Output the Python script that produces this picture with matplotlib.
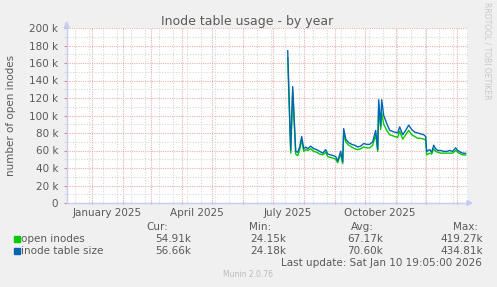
import matplotlib
matplotlib.use("Agg")
import matplotlib.pyplot as plt
import matplotlib.transforms as mtransforms
import pandas as pd

# daily points (values in k)
dates = ["2025-07-16", "2025-07-19", "2025-07-21", "2025-07-24", "2025-07-26",
         "2025-07-28", "2025-07-30", "2025-08-01", "2025-08-03", "2025-08-05",
         "2025-08-08", "2025-08-11", "2025-08-14", "2025-08-17", "2025-08-20",
         "2025-08-23", "2025-08-25", "2025-08-28", "2025-08-31", "2025-09-02",
         "2025-09-04", "2025-09-07", "2025-09-09", "2025-09-10", "2025-09-12",
         "2025-09-15", "2025-09-18", "2025-09-21", "2025-09-24", "2025-09-27",
         "2025-09-30", "2025-10-03", "2025-10-06", "2025-10-09", "2025-10-12",
         "2025-10-14", "2025-10-15", "2025-10-17", "2025-10-18", "2025-10-20",
         "2025-10-23", "2025-10-26", "2025-10-31", "2025-11-03", "2025-11-05",
         "2025-11-08", "2025-11-11", "2025-11-14", "2025-11-17", "2025-11-20",
         "2025-11-23", "2025-11-26", "2025-11-29", "2025-12-01", "2025-12-02",
         "2025-12-05", "2025-12-07", "2025-12-09", "2025-12-11", "2025-12-13",
         "2025-12-16", "2025-12-19", "2025-12-22", "2025-12-25", "2025-12-28",
         "2025-12-31", "2026-01-02", "2026-01-05", "2026-01-07", "2026-01-10"]
table_size = [174, 60, 133, 59, 58, 64, 76, 62, 64, 62,
              65, 62, 61, 59, 57, 61, 56, 55, 54, 53,
              48, 59, 47, 85, 73, 69, 67, 66, 64, 65,
              68, 67, 67, 70, 83, 61, 118, 88, 118, 100,
              91, 83, 81, 80, 87, 78, 83, 89, 84, 81,
              80, 79, 78, 76, 59, 61, 58, 66, 62, 60,
              60, 59, 59, 60, 59, 63, 60, 58, 57, 56.7]
open_inodes = [166, 57, 128, 56, 54, 61, 72, 59, 61, 60,
               62, 59, 58, 56, 55, 58, 53, 52, 51, 50,
               46, 56, 45, 81, 70, 66, 64, 62, 61, 62,
               64, 63, 63, 66, 78, 59, 110, 84, 103, 90,
               83, 78, 76, 75, 82, 73, 78, 83, 78, 76,
               74, 74, 73, 72, 55, 57, 56, 62, 59, 58,
               57, 57, 57, 57, 57, 60, 58, 56, 55, 54.9]

month_labels = ["January 2025", "April 2025", "July 2025", "October 2025"]
label_dates = ["2025-01-16", "2025-04-16", "2025-07-16", "2025-10-16"]
yticks = list(range(0, 200001, 20000))

legend_names = ["open inodes", "inode table size"]
legend_colors = ["#00CC00", "#0066B3"]
stat_heads = ["Cur:", "Min:", "Avg:", "Max:"]
stats = [["54.91k", "24.15k", "67.17k", "419.27k"],
         ["56.66k", "24.18k", "70.60k", "434.81k"]]

W, H = 497, 287
BG = "#F0F0F0"
TXT = "#5A5A5A"
RED = "#EAB2B2"
GREY = "#D6D6D6"
AXC = "#C8CCF2"


def fx(x):
    return x / W


def fy(y):
    return 1 - y / H


fig = plt.figure(figsize=(W / 100, H / 100), dpi=100, facecolor=BG)
ax = fig.add_axes([fx(66.7), fy(203), fx(467.7) - fx(66.7), fy(28) - fy(203)])
ax.set_facecolor("white")

t = pd.to_datetime(dates)
ax.plot(t, [v * 1000 for v in open_inodes], color=legend_colors[0], lw=1.0, zorder=3)
ax.plot(t, [v * 1000 for v in table_size], color=legend_colors[1], lw=1.0, zorder=4)

ax.set_xlim(pd.Timestamp("2024-12-07"), pd.Timestamp("2026-01-12"))
ax.set_ylim(0, 200000)

ax.set_xticks(pd.date_range("2025-01-01", "2026-01-01", freq="MS"))
ax.set_xticks(pd.date_range("2024-12-15", "2026-01-12", freq="14D"), minor=True)
ax.set_yticks(yticks)
ax.set_yticks(range(10000, 200000, 20000), minor=True)
ax.set_yticklabels(["0" if v == 0 else "%d k" % (v // 1000) for v in yticks])
ax.tick_params(axis="x", which="major", color="#E08080", length=2, direction="inout",
               labelbottom=False)
ax.tick_params(axis="x", which="minor", color=GREY, length=2, direction="inout")
ax.tick_params(axis="y", which="major", color="#E08080", length=2, direction="out",
               labelsize=7.5, labelcolor=TXT, pad=4)
ax.tick_params(axis="y", which="minor", color=GREY, length=2, direction="out")

ax.grid(which="minor", color=GREY, lw=0.8, ls=(0, (1, 1.5)), zorder=1)
ax.grid(which="major", color=RED, lw=0.8, ls=(0, (1, 1)), zorder=2)
ax.set_axisbelow(True)
for s in ["top", "right"]:
    ax.spines[s].set_visible(False)
for s in ["bottom", "left"]:
    ax.spines[s].set_color(AXC)
    ax.spines[s].set_linewidth(1.0)

lab_tr = mtransforms.blended_transform_factory(ax.transData, fig.transFigure)
for lab, d in zip(month_labels, label_dates):
    ax.text(pd.Timestamp(d), fy(213.5), lab, transform=lab_tr,
            ha="center", va="center", fontsize=7.5, color=TXT)

# axis arrows
fig.patches.append(plt.Polygon([[fx(467), fy(200.5)], [fx(472), fy(203)], [fx(467), fy(205.5)]],
                               closed=True, transform=fig.transFigure, color=AXC, figure=fig))
fig.patches.append(plt.Polygon([[fx(64.2), fy(28)], [fx(66.7), fy(22)], [fx(69.2), fy(28)]],
                               closed=True, transform=fig.transFigure, color=AXC, figure=fig))

fig.text(fx(247.5), fy(21), "Inode table usage - by year", ha="center", va="center",
         fontsize=9, color=TXT)
fig.text(fx(11), fy(115), "number of open inodes", ha="center", va="center",
         rotation=90, fontsize=7.5, color=TXT)
fig.text(fx(487), fy(51), "RRDTOOL / TOBI OETIKER", ha="center", va="center",
         rotation=270, fontsize=5.5, color="#C8C8C8")

head_x = [157.5, 260, 362, 466]
val_x = [190.7, 286.7, 383.3, 482.7]
row_y = [239.3, 251.3]
for h, x in zip(stat_heads, head_x):
    fig.text(fx(x), fy(227.3), h, ha="center", va="center", fontsize=7.5, color=TXT)
for i, name in enumerate(legend_names):
    y = row_y[i]
    fig.patches.append(plt.Rectangle((fx(14), fy(y + 3)), fx(6), 6 / H,
                                     transform=fig.transFigure, color=legend_colors[i],
                                     figure=fig))
    fig.text(fx(20.7), fy(y), name, ha="left", va="center", fontsize=7.5, color=TXT)
    for v, x in zip(stats[i], val_x):
        fig.text(fx(x), fy(y), v, ha="right", va="center", fontsize=7.5, color=TXT)
fig.text(fx(482.3), fy(262.7), "Last update: Sat Jan 10 19:05:00 2026", ha="right",
         va="center", fontsize=7.5, color=TXT)
fig.text(fx(248), fy(274.3), "Munin 2.0.76", ha="center", va="center",
         fontsize=5.5, color="#BBBBBB")

fig.savefig("out.png", dpi=100, facecolor=BG)
